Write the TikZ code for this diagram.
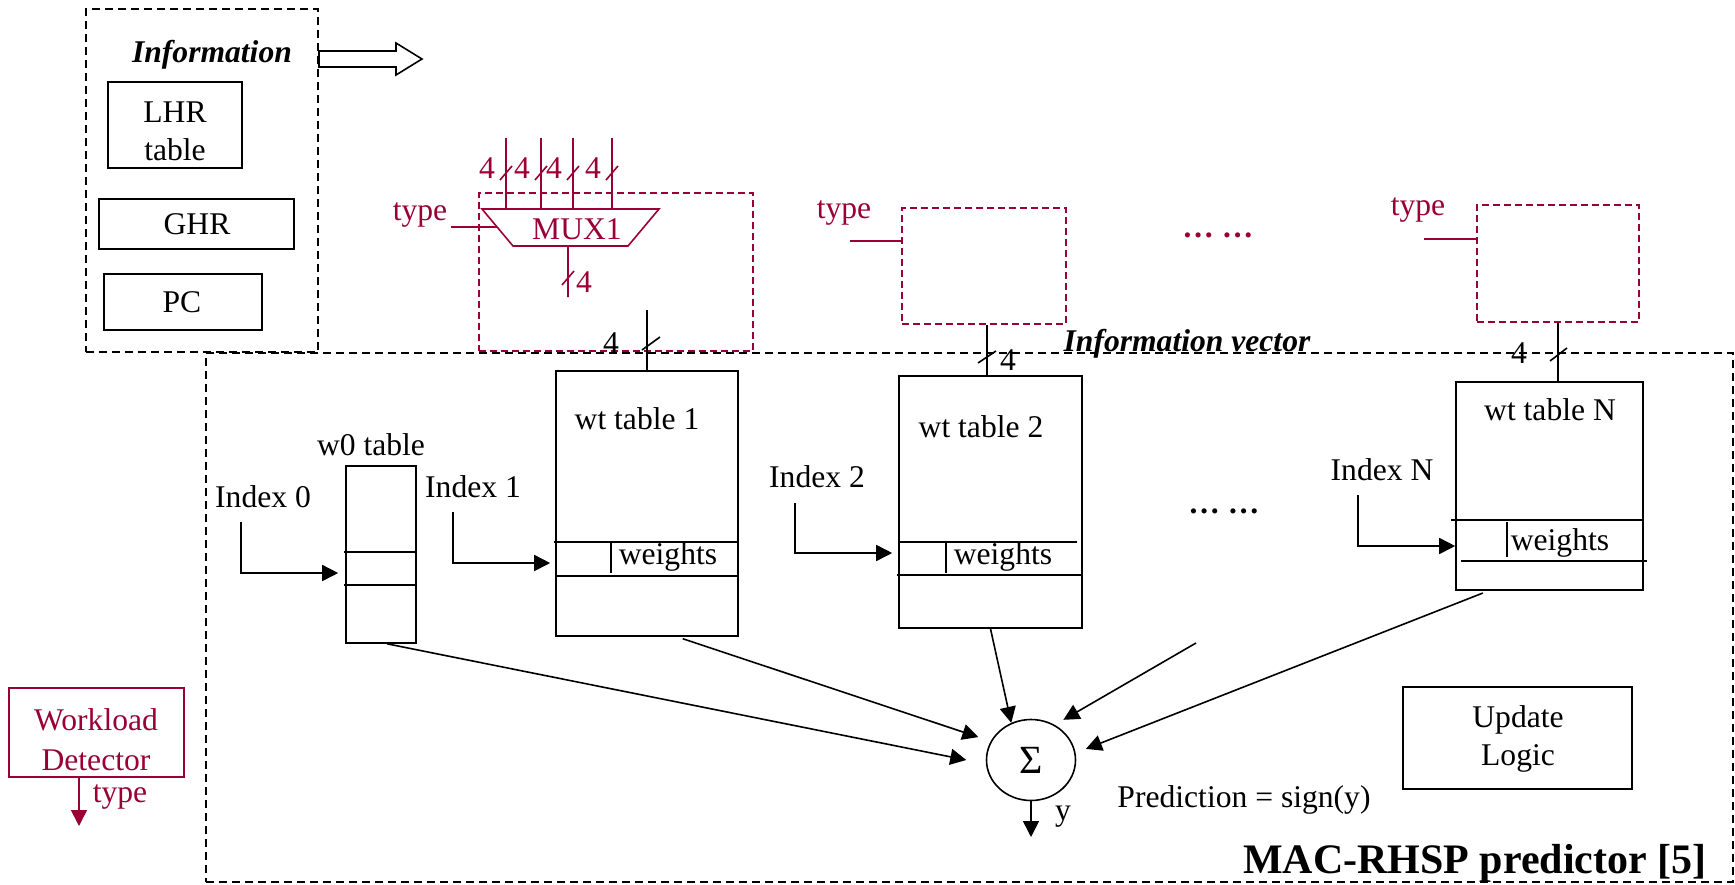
\documentclass[tikz,border=0pt]{standalone}
\usepackage{fontspec}
\setmainfont{Liberation Serif}
\usetikzlibrary{arrows.meta,shapes.geometric,fit,calc}
\definecolor{wine}{RGB}{153,0,51}
\begin{document}
\begin{tikzpicture}[x=0.5pt,y=-0.5pt,
  every node/.style={font=\fontsize{15.8}{19}\selectfont, inner sep=0pt},
  box/.style={draw, line width=0.8pt, inner sep=0pt},
  dbox/.style={draw, dash pattern=on 4pt off 2.5pt, line width=0.8pt, inner sep=0pt},
  rbox/.style={draw=wine, dash pattern=on 3.5pt off 2pt, line width=0.8pt, inner sep=0pt},
  ln/.style={line width=0.8pt},
  rln/.style={line width=0.8pt, draw=wine},
  arr/.style={line width=0.8pt, -{Triangle[length=8pt,width=8pt]}},
  rlbl/.style={text=wine},
  bi/.style={font=\bfseries\itshape\fontsize{15.8}{19}\selectfont},
]
\useasboundingbox (0,0) rectangle (1735,884);

% ---------- Information block ----------
\node[dbox, fit={(86,9) (318,352)}] (infobox) {};
\node[bi] (infot) at (212,55) {Information};
\node[box, fit={(108,82) (242,168)}] (lhr) {};
\node[align=center] (lhrt) at (175,131) {LHR\\table};
\node[box, fit={(99,199) (294,249)}] (ghr) {};
\node (ghrt) at (197,224) {GHR};
\node[box, fit={(104,274) (262,330)}] (pc) {};
\node (pct) at (182,302) {PC};
\draw[line width=0.8pt] (319,51) -- (396,51) -- (396,43) -- (422,59) -- (396,75) -- (396,67) -- (319,67) -- cycle;

% ---------- big dashed predictor box ----------
\node[dbox, fit={(206,353) (1733,882)}] (pred) {};
\node[bi, anchor=base] (ivec) at (1187,351) {Information vector};
\node[anchor=base east, font=\bfseries\fontsize{21}{25}\selectfont] (title) at (1707,873) {MAC-RHSP predictor [5]};

% ---------- MUX region ----------
\node[rbox, fit={(479,193) (753,351)}] (rb1) {};
\coordinate (m1) at (482,209);
\coordinate (m2) at (659,209);
\coordinate (m3) at (628,246);
\coordinate (m4) at (513,246);
\draw[rln] (m1) -- (m2) -- (m3) -- (m4) -- cycle;
\node[rlbl] (mux) at (577,229) {MUX1};
\foreach \x/\lx [count=\i] in {506/487,541/522,573/554,612/593} {
  \coordinate (in\i) at (\x,138);
  \draw[rln] (in\i) -- (\x,209);
  \draw[rln] (\x-6,180) -- (\x+6,166);
  \node[rlbl] (q\i) at (\lx,168) {4};
}
\coordinate (t1) at (451,227);
\draw[rln] (t1) -- ($(m1)!0.486!(m4)$);
\node[rlbl] (t1l) at (420,215) {type};
\coordinate (mo) at (568,297);
\draw[rln] ($(m4)!0.478!(m3)$) -- (mo);
\draw[rln] (562,285) -- (574,271);
\node[rlbl] (mol) at (584,282) {4};

% ---------- red boxes 2 and N ----------
\node[rbox, fit={(902,208) (1066,324)}] (rb2) {};
\coordinate (t2) at (850,241);
\draw[rln] (t2) -- (t2 -| rb2.west);
\node[rlbl] (t2l) at (844,213) {type};
\node[rbox, fit={(1477,205) (1639,322)}] (rbN) {};
\coordinate (tN) at (1424,239);
\draw[rln] (tN) -- (tN -| rbN.west);
\node[rlbl] (tNl) at (1418,210) {type};
\node[rlbl, anchor=base, font=\bfseries\fontsize{15.8}{19}\selectfont] (dots1) at (1218,237) {… …};

% ---------- weight tables ----------
\node[box, fit={(346,466) (416,643)}] (w0) {};
\draw[ln] (344,552) -- (416,552);
\draw[ln] (344,585) -- (416,585);
\node (w0t) at (371,445) {w0 table};

\node[box, fit={(556,371) (738,636)}] (wt1) {};
\draw[ln] (554,542) -- (738,542);
\draw[ln] (557,576) -- (738,576);
\draw[ln] (611,542) -- (611,573);
\node (wt1w) at (668,557) {weights};
\node (wt1t) at (637,419) {wt table 1};

\node[box, fit={(899,376) (1082,628)}] (wt2) {};
\draw[ln] (899,542) -- (1077,542);
\draw[ln] (897,575) -- (1082,575);
\draw[ln] (946,542) -- (946,573);
\node (wt2w) at (1003,557) {weights};
\node (wt2t) at (981,427) {wt table 2};

\node[box, fit={(1456,382) (1643,590)}] (wtN) {};
\draw[ln] (1451,520) -- (1643,520);
\draw[ln] (1461,561) -- (1647,561);
\draw[ln] (1507,522) -- (1507,557);
\node (wtNw) at (1560,543) {weights};
\node (wtNt) at (1550,410) {wt table N};

\node[anchor=base, font=\bfseries\fontsize{15.8}{19}\selectfont] (dots2) at (1224,513) {… …};

% ---------- 4-bit buses into tables ----------
\coordinate (b1) at (647,310);
\draw[ln] (b1) -- (b1 |- wt1.north);
\draw[ln] (642,350) -- (660,337);
\node (b1l) at (611,343) {4};
\draw[ln] (rb2.south -| 987,0) -- (wt2.north -| 987,0);
\draw[ln] (978,363) -- (996,351);
\node (b2l) at (1008,360) {4};
\draw[ln] (rbN.south) -- (rbN.south |- wtN.north);
\draw[ln] (1550,361) -- (1567,348);
\node (bNl) at (1519,353) {4};

% ---------- index arrows ----------
\node (i0l) at (263,497) {Index 0};
\coordinate (i0) at (241,522);
\coordinate (i0b) at (241,573);
\draw[arr, shorten >=3.5pt] (i0) -- (i0b) -- (w0.west |- i0b);
\node (i1l) at (473,487) {Index 1};
\coordinate (i1) at (453,512);
\coordinate (i1b) at (453,563);
\draw[arr, shorten >=2.5pt] (i1) -- (i1b) -- (wt1.west |- i1b);
\node (i2l) at (817,477) {Index 2};
\coordinate (i2) at (795,503);
\coordinate (i2b) at (795,553);
\draw[arr, shorten >=3pt] (i2) -- (i2b) -- (wt2.west |- i2b);
\node (iNl) at (1382,470) {Index N};
\coordinate (iN) at (1358,495);
\coordinate (iNb) at (1358,546);
\draw[arr] (iN) -- (iNb) -- (wtN.west |- iNb);

% ---------- summation ----------
\node[draw, ellipse, line width=0.8pt, minimum width=44.5pt, minimum height=40.5pt, font=\fontsize{20}{24}\selectfont] (sig) at (1031,760) {Σ};
\draw[arr] (wt2.south) -- (sig.118);
\coordinate (fr) at (1196,643);
\draw[arr, shorten >=5pt] (fr) -- (sig.56);
\draw[arr, shorten <=3pt, shorten >=5.5pt] ($(wtN.south)+(-61,0)$) -- (sig.9);
\draw[arr, shorten <=3pt, shorten >=6.5pt] ($(wt1.south)+(30,0)$) -- (sig.155);
\draw[arr, shorten >=10pt] ($(w0.south)+(6,0)$) -- (sig.185);
\coordinate (yout) at (1031,837);
\draw[arr] (sig.south) -- (yout);
\node (yl) at (1063,817) {y};
\node (predl) at (1244,800) {Prediction = sign(y)};

\node[box, fit={(1403,687) (1632,789)}] (upd) {};
\node[align=center] (updt) at (1518,739) {Update\\Logic};

% ---------- workload detector ----------
\node[draw=wine, line width=0.8pt, fit={(9,688) (184,777)}] (wd) {};
\node[rlbl, align=center, font=\fontsize{15.8}{20}\selectfont] (wdt) at (96,740) {Workload\\Detector};
\coordinate (wdo) at (79,826);
\draw[arr, wine] (wd.south -| wdo) -- (wdo);
\node[rlbl] (wdl) at (120,797) {type};
\end{tikzpicture}
\end{document}
